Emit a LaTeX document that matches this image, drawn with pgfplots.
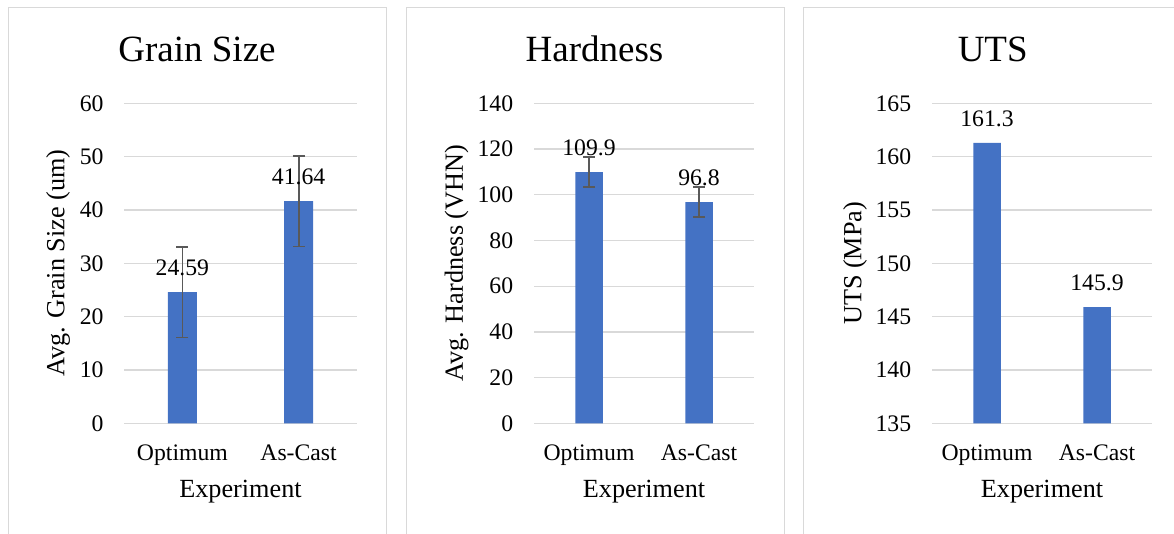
\documentclass[border=0pt]{standalone}
\usepackage{fontspec}
\setmainfont{Liberation Serif}
\usepackage{pgfplots}
\pgfplotsset{compat=1.18}
\definecolor{barblue}{HTML}{4472C4}
\definecolor{gridgray}{HTML}{D9D9D9}
\definecolor{errgray}{HTML}{595959}

\pgfplotsset{
  panel/.style={
    scale only axis, height=320pt,
    ybar, bar width=0.25, xmin=-0.5, xmax=1.5,
    xtick={0,1}, xticklabels={Optimum,As-Cast},
    axis line style={draw=none}, major tick length=0pt,
    ymajorgrids, grid style={gridgray, line width=1.3pt},
    /pgf/number format/assume math mode=true,
    tick label style={font=\fontsize{23.7}{28}\selectfont, text=black},
    yticklabel style={xshift=-17.3pt},
    xticklabel style={anchor=base, yshift=-36.7pt},
    xlabel={Experiment},
    label style={font=\fontsize{26.2}{31}\selectfont},
    xlabel style={at={(axis description cs:0.5,-0.2325)}, anchor=base},
    nodes near coords, point meta=explicit symbolic,
    every node near coord/.append style={font=\fontsize{23.7}{28}\selectfont, anchor=base, yshift=16.7pt, text=black},
    clip=false,
  },
  errbars/.style={
    error bars/.cd, y dir=both, y explicit,
    error bar style={errgray, line width=1.8pt},
    error mark options={rotate=90, errgray, mark size=6pt, line width=1.8pt},
  },
}

\begin{document}
\begin{tikzpicture}
\useasboundingbox (0,0) rectangle (1174pt,533pt);

% panel frames
\draw[gridgray, line width=1pt] (8.3pt,-2pt) -- (8.3pt,525.5pt) -- (386pt,525.5pt) -- (386pt,-2pt);
\draw[gridgray, line width=1pt] (406pt,-2pt) -- (406pt,525.5pt) -- (784pt,525.5pt) -- (784pt,-2pt);
\draw[gridgray, line width=1pt] (803.3pt,-2pt) -- (803.3pt,525.5pt) -- (1180pt,525.5pt);

% Grain size
\begin{axis}[panel, at={(124.3pt,109.7pt)}, anchor=south west, width=232.4pt,
  ymin=0, ymax=60, ytick={0,10,...,60},
  ylabel={Avg. Grain Size (um)},
  ylabel style={at={(axis description cs:-0.2853,0.5)}, anchor=center}]
\addplot[fill=barblue, draw=none, errbars] table[x=x, y=y, y error=e, meta=lab] {
x y e lab
0 24.59 8.5 24.59
1 41.64 8.5 41.64
};
\end{axis}

% Hardness
\begin{axis}[panel, at={(534pt,109.7pt)}, anchor=south west, width=220pt,
  ymin=0, ymax=140, ytick={0,20,...,140},
  ylabel={Avg. Hardness (VHN)},
  ylabel style={at={(axis description cs:-0.3514,0.5)}, anchor=center}]
\addplot[fill=barblue, draw=none, errbars] table[x=x, y=y, y error=e, meta=lab] {
x y e lab
0 109.9 6.45 109.9
1 96.8 6.45 96.8
};
\end{axis}

% UTS
\begin{axis}[panel, at={(932pt,109.7pt)}, anchor=south west, width=220pt,
  ymin=135, ymax=165, ytick={135,140,...,165},
  ylabel={UTS (MPa)},
  ylabel style={at={(axis description cs:-0.35,0.5)}, anchor=center},
  restrict y to domain*=135:165]
\addplot[fill=barblue, draw=none] table[x=x, y=y, meta=lab] {
x y lab
0 161.3 161.3
1 145.9 145.9
};
\end{axis}

% titles
\node[anchor=base, font=\fontsize{37}{44}\selectfont] at (197pt,471.3pt) {Grain Size};
\node[anchor=base, font=\fontsize{37}{44}\selectfont] at (594.5pt,471.3pt) {Hardness};
\node[anchor=base, font=\fontsize{37}{44}\selectfont] at (992.7pt,471.3pt) {UTS};
\end{tikzpicture}
\end{document}
